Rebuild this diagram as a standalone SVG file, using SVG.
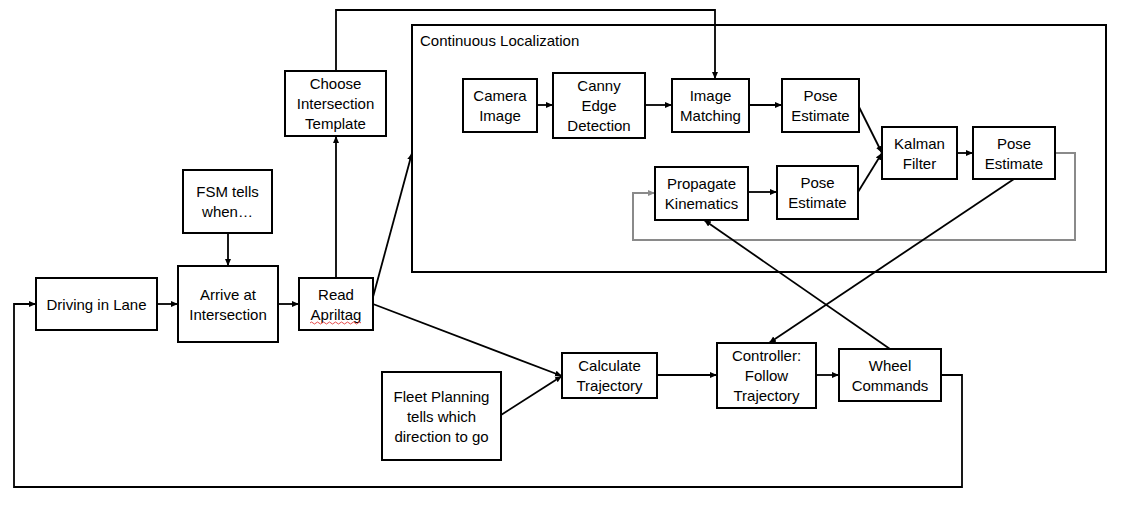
<svg xmlns="http://www.w3.org/2000/svg" width="1122" height="505" viewBox="0 0 1122 505">
<style>
.box{fill:#fff;stroke:#000;stroke-width:2}
.t{font-family:"Liberation Sans",Arial,sans-serif;font-size:15px;text-anchor:middle;fill:#000}
.c{fill:none;stroke:#000;stroke-width:1.8}
.g{fill:none;stroke:#8a8a8a;stroke-width:2}
</style>
<defs>
<marker id="a" markerUnits="userSpaceOnUse" markerWidth="8" markerHeight="7" refX="7" refY="3" orient="auto"><path d="M0,0 L7,3 L0,6 z" fill="#000"/></marker>
<marker id="ag" markerUnits="userSpaceOnUse" markerWidth="8" markerHeight="7" refX="7" refY="3" orient="auto"><path d="M0,0 L7,3 L0,6 z" fill="#8a8a8a"/></marker>
</defs>
<rect width="1122" height="505" fill="#fff"/>
<g id="cont">
<rect class="box" x="412" y="25" width="694" height="247"/>
<text class="t" x="420" y="46" style="text-anchor:start">Continuous Localization</text>
</g>
<g id="connectors">
<path class="c" d="M228,233 V266" marker-end="url(#a)"/>
<path class="c" d="M157,304 H178" marker-end="url(#a)"/>
<path class="c" d="M278,304 H299" marker-end="url(#a)"/>
<path class="c" d="M336,278 V136" marker-end="url(#a)"/>
<path class="c" d="M336,71 V10 H715 V79" marker-end="url(#a)"/>
<path class="c" d="M373,297 L412,153" marker-end="url(#a)"/>
<path class="c" d="M373,304 L562,376" marker-end="url(#a)"/>
<path class="c" d="M501,415 L562,376" marker-end="url(#a)"/>
<path class="c" d="M657,375 H717" marker-end="url(#a)"/>
<path class="c" d="M816,375 H839" marker-end="url(#a)"/>
<path class="c" d="M941,375 H962 V487 H14 V304 H36" marker-end="url(#a)"/>
<path class="c" d="M537,105 H553" marker-end="url(#a)"/>
<path class="c" d="M645,105 H672" marker-end="url(#a)"/>
<path class="c" d="M749,105 H782" marker-end="url(#a)"/>
<path class="c" d="M859,107 L882,153" marker-end="url(#a)"/>
<path class="c" d="M858,192 L882,153" marker-end="url(#a)"/>
<path class="c" d="M957,153 H973" marker-end="url(#a)"/>
<path class="c" d="M748,192 H777" marker-end="url(#a)"/>
<path class="g" d="M1055,153 H1075 V240 H633 V193 H655" marker-end="url(#ag)"/>
<path class="c" d="M1014,179 L769,343" marker-end="url(#a)"/>
<path class="c" d="M890,349 L704,220" marker-end="url(#a)"/>
</g>
<g id="driving"><rect class="box" x="36" y="278" width="121" height="52"/><text class="t" x="96.5" y="309.5">Driving in Lane</text></g>
<g id="arrive"><rect class="box" x="178" y="266" width="100" height="76"/><text class="t" x="228" y="299.5">Arrive at</text><text class="t" x="228" y="319.5">Intersection</text></g>
<g id="fsm"><rect class="box" x="183" y="170" width="89" height="63"/><text class="t" x="227.5" y="197">FSM tells</text><text class="t" x="227.5" y="217">when…</text></g>
<g id="read"><rect class="box" x="299" y="278" width="74" height="52"/><text class="t" x="336" y="299.5">Read</text><text class="t" x="336" y="319.5">Apriltag</text><path d="M310,323 q1.5,-2 3,0 t3,0 t3,0 t3,0 t3,0 t3,0 t3,0 t3,0 t3,0 t3,0 t3,0 t3,0 t3,0 t3,0 t3,0 t3,0 t3,0" fill="none" stroke="#e02020" stroke-width="0.8"/></g>
<g id="choose"><rect class="box" x="285" y="71" width="101" height="65"/><text class="t" x="335.5" y="89">Choose</text><text class="t" x="335.5" y="109">Intersection</text><text class="t" x="335.5" y="129">Template</text></g>
<g id="camera"><rect class="box" x="463" y="79" width="74" height="53"/><text class="t" x="500" y="101">Camera</text><text class="t" x="500" y="121">Image</text></g>
<g id="canny"><rect class="box" x="553" y="73" width="92" height="65"/><text class="t" x="599" y="91">Canny</text><text class="t" x="599" y="111">Edge</text><text class="t" x="599" y="131">Detection</text></g>
<g id="matching"><rect class="box" x="672" y="79" width="77" height="53"/><text class="t" x="710.5" y="101">Image</text><text class="t" x="710.5" y="121">Matching</text></g>
<g id="pose1"><rect class="box" x="782" y="79" width="77" height="53"/><text class="t" x="820.5" y="101">Pose</text><text class="t" x="820.5" y="121">Estimate</text></g>
<g id="kalman"><rect class="box" x="882" y="127" width="75" height="52"/><text class="t" x="919.5" y="148.5">Kalman</text><text class="t" x="919.5" y="168.5">Filter</text></g>
<g id="pose3"><rect class="box" x="973" y="127" width="82" height="52"/><text class="t" x="1014" y="148.5">Pose</text><text class="t" x="1014" y="168.5">Estimate</text></g>
<g id="propagate"><rect class="box" x="655" y="167" width="93" height="53"/><text class="t" x="701.5" y="188.5">Propagate</text><text class="t" x="701.5" y="208.5">Kinematics</text></g>
<g id="pose2"><rect class="box" x="777" y="166" width="81" height="53"/><text class="t" x="817.5" y="188">Pose</text><text class="t" x="817.5" y="208">Estimate</text></g>
<g id="calc"><rect class="box" x="562" y="353" width="95" height="45"/><text class="t" x="609.5" y="371">Calculate</text><text class="t" x="609.5" y="391">Trajectory</text></g>
<g id="fleet"><rect class="box" x="382" y="372" width="119" height="88"/><text class="t" x="441.5" y="401.5">Fleet Planning</text><text class="t" x="441.5" y="421.5">tells which</text><text class="t" x="441.5" y="441.5">direction to go</text></g>
<g id="controller"><rect class="box" x="717" y="343" width="99" height="65"/><text class="t" x="766.5" y="361">Controller:</text><text class="t" x="766.5" y="381">Follow</text><text class="t" x="766.5" y="401">Trajectory</text></g>
<g id="wheel"><rect class="box" x="839" y="349" width="102" height="52"/><text class="t" x="890" y="370.5">Wheel</text><text class="t" x="890" y="390.5">Commands</text></g>
</svg>
